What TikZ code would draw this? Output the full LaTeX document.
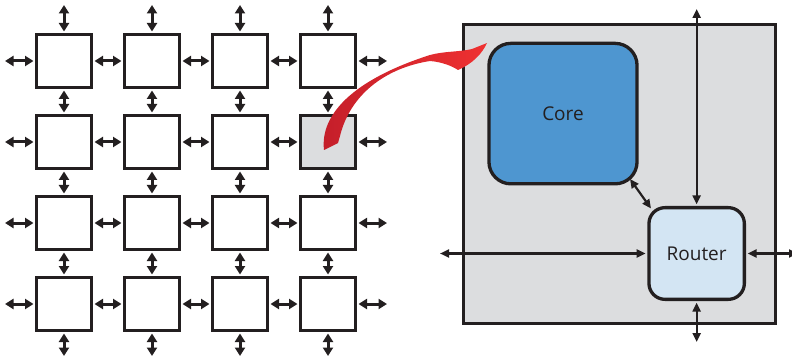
\documentclass[tikz,border=0pt]{standalone}
\usepackage{fontspec}
\newfontfamily\labelfont{Open Sans}
\usetikzlibrary{arrows.meta}

\definecolor{ink}{HTML}{231F20}
\definecolor{tilegray}{HTML}{DCDDDF}
\definecolor{coreblue}{HTML}{4E96D0}
\definecolor{routerblue}{HTML}{D3E5F3}
\definecolor{swooshdark}{HTML}{C41E2A}
\definecolor{swooshlight}{HTML}{EF3131}

\begin{document}
\begin{tikzpicture}[x=1pt,y=-1pt,
  tile/.style={draw=ink, line width=3.3pt, minimum width=54.5pt,
    minimum height=52.5pt, inner sep=0pt},
  linkarrow/.style={draw=ink, line width=3pt,
    {Triangle[length=8.5pt,width=10pt]}-{Triangle[length=8.5pt,width=10pt]},
    shorten <=1.6pt, shorten >=1.6pt},
  edgearrow/.style={linkarrow, shorten >=0pt},
  bigbox/.style={draw=ink, line width=3pt, fill=tilegray, inner sep=0pt},
  unit/.style={draw=ink, line width=3.3pt, inner sep=0pt, text=ink,
    font=\labelfont\fontsize{19}{23}\selectfont},
  busarrow/.style={draw=ink, line width=2.2pt,
    {Triangle[length=9pt,width=8pt]}-{Triangle[length=9pt,width=8pt]},
    shorten <=1.6pt},
]
\clip (0,0) rectangle (792,358);

% 4x4 mesh of tiles
\foreach \c [count=\ci] in {64,152,240,328} {
  \foreach \r [count=\ri] in {61,142,223,304} {
    \ifnum\ri\ci=24 \def\tilefill{tilegray}\else\def\tilefill{white}\fi
    \node[tile, fill=\tilefill] (t-\ri-\ci) at (\c,\r) {};
  }
}

% links between neighbouring tiles
\foreach \r in {1,2,3,4} {
  \foreach \c [evaluate=\c as \n using int(\c+1)] in {1,2,3} {
    \draw[linkarrow] (t-\r-\c.east) -- (t-\r-\n.west);
    \draw[linkarrow] (t-\c-\r.south) -- (t-\n-\r.north);
  }
}

% links leaving the mesh
\foreach \r/\y in {1/61,2/142,3/223,4/304} {
  \coordinate (w-\r) at (5,\y);
  \coordinate (e-\r) at (387,\y);
  \draw[edgearrow] (t-\r-1.west) -- (w-\r);
  \draw[edgearrow] (t-\r-4.east) -- (e-\r);
}
\foreach \c/\x in {1/64,2/152,3/240,4/328} {
  \coordinate (n-\c) at (\x,5);
  \coordinate (s-\c) at (\x,356);
  \draw[edgearrow] (t-1-\c.north) -- (n-\c);
  \draw[edgearrow] (t-4-\c.south) -- (s-\c);
}

% enlarged tile: core and router
\node[bigbox, minimum width=312.3pt, minimum height=298.7pt] (tile) at (619.35,174.15) {};
\node[unit, fill=coreblue, rounded corners=22pt, minimum width=148.1pt,
  minimum height=140.5pt] (core) at (563,113.6) {Core};
\node[unit, fill=routerblue, rounded corners=16pt, minimum width=95.4pt,
  minimum height=91.7pt] (router) at (696.65,253.5) {Router};

\coordinate (bus-n) at (696.65,9);
\coordinate (bus-s) at (696.65,342);
\coordinate (bus-w) at (440,253.5);
\coordinate (bus-e) at (798,253.5);
\coordinate (core-c) at (630,179);
\coordinate (router-c) at (651,208.5);
\draw[busarrow] (router.north) -- (bus-n);
\draw[busarrow] (router.south) -- (bus-s);
\draw[busarrow] (router.west) -- (bus-w);
\draw[busarrow] (router.east) -- (bus-e);
\draw[busarrow, shorten <=0pt] (core-c) -- (router-c);

% red swoosh from the highlighted tile to the enlarged view
\path[left color=swooshdark, right color=swooshlight]
  (324,150) .. controls (320,115) and (352,80) .. (430,55)
  .. controls (445,51) and (460,52) .. (472,49)
  -- (487,43)
  .. controls (482,54) and (472,64) .. (458,70)
  .. controls (452,66) and (442,62) .. (430,61)
  .. controls (385,68) and (350,95) .. (340,136)
  -- (338,143) -- cycle;
\end{tikzpicture}
\end{document}
